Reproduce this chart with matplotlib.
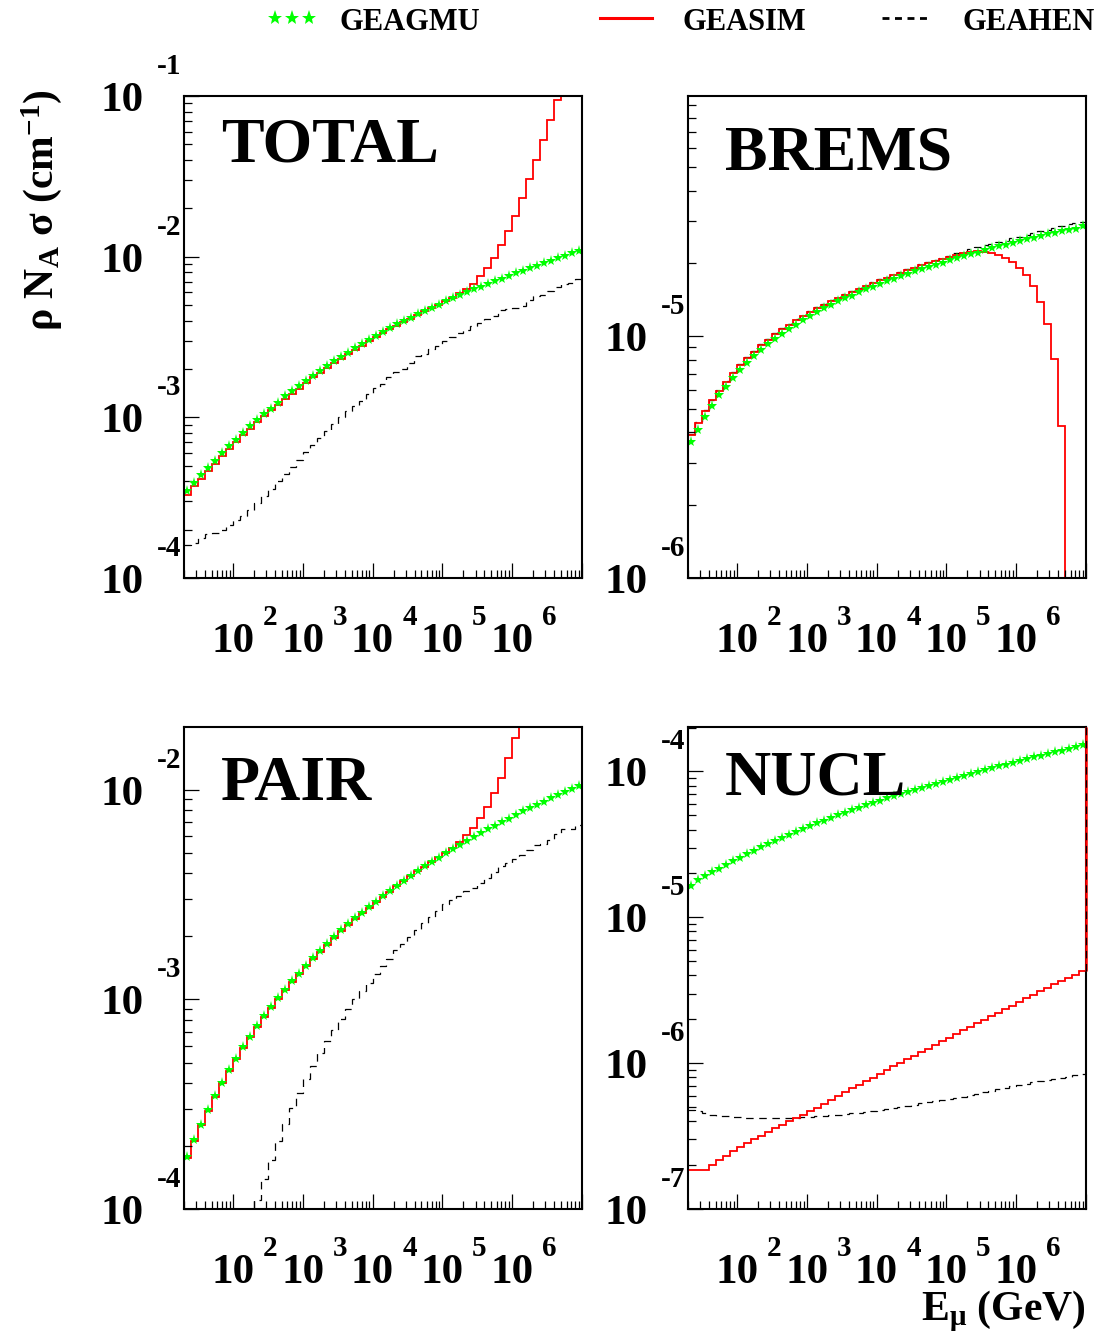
import numpy as np
import matplotlib
matplotlib.use("Agg")
import matplotlib.pyplot as plt
from matplotlib.ticker import LogLocator, NullFormatter
from matplotlib.transforms import offset_copy, blended_transform_factory
from matplotlib.lines import Line2D
import math

plt.rcParams['font.family'] = ['Liberation Serif', 'DejaVu Serif']
plt.rcParams['font.weight'] = 'bold'
plt.rcParams['mathtext.fontset'] = 'custom'
plt.rcParams['mathtext.rm'] = 'Liberation Serif:bold'
plt.rcParams['mathtext.it'] = 'Liberation Serif:bold'
plt.rcParams['mathtext.bf'] = 'Liberation Serif:bold'
plt.rcParams['mathtext.default'] = 'rm'

# ---- binning: log10(E/GeV) from 1.3 to 7.0 in 0.1 steps (57 bins)
log_e_edges = np.round(np.arange(1.3, 7.0001, 0.1), 2)

# ---- data (log10 of rho*N_A*sigma in cm^-1), one value per bin
total_geagmu = [-3.461, -3.409, -3.361, -3.315, -3.270, -3.222, -3.181, -3.139, -3.097, -3.056,
                -3.019, -2.980, -2.946, -2.908, -2.869, -2.835, -2.802, -2.771, -2.740, -2.709,
                -2.678, -2.651, -2.624, -2.597, -2.570, -2.543, -2.518, -2.493, -2.468, -2.445,
                -2.422, -2.399, -2.379, -2.358, -2.337, -2.317, -2.298, -2.277, -2.259, -2.240,
                -2.221, -2.202, -2.186, -2.169, -2.153, -2.136, -2.119, -2.103, -2.088, -2.072,
                -2.055, -2.038, -2.024, -2.009, -1.993, -1.980, -1.966]
total_geasim = [-3.482, -3.430, -3.384, -3.332, -3.288, -3.243, -3.195, -3.153, -3.110, -3.070,
                -3.031, -2.994, -2.956, -2.921, -2.886, -2.852, -2.821, -2.786, -2.752, -2.721,
                -2.690, -2.662, -2.634, -2.607, -2.580, -2.553, -2.527, -2.502, -2.476, -2.452,
                -2.429, -2.405, -2.385, -2.363, -2.341, -2.320, -2.300, -2.278, -2.255, -2.229,
                -2.200, -2.168, -2.123, -2.069, -2.007, -1.928, -1.843, -1.748, -1.637, -1.519,
                -1.399, -1.276, -1.150, -1.025, -0.900, -0.775, -0.650]
total_geahen = [-3.797, -3.783, -3.751, -3.725, -3.718, -3.700, -3.669, -3.637, -3.612, -3.575,
                -3.533, -3.490, -3.444, -3.399, -3.355, -3.309, -3.264, -3.218, -3.172, -3.128,
                -3.087, -3.041, -3.000, -2.963, -2.928, -2.898, -2.856, -2.818, -2.790, -2.751,
                -2.720, -2.699, -2.661, -2.620, -2.603, -2.574, -2.558, -2.527, -2.501, -2.478,
                -2.454, -2.433, -2.412, -2.387, -2.367, -2.335, -2.328, -2.318, -2.304, -2.271,
                -2.246, -2.236, -2.215, -2.190, -2.173, -2.163, -2.138]

brems_geagmu = [-5.439, -5.386, -5.335, -5.290, -5.245, -5.209, -5.172, -5.138, -5.110, -5.083,
                -5.058, -5.034, -5.011, -4.990, -4.969, -4.952, -4.935, -4.917, -4.901, -4.885,
                -4.870, -4.856, -4.844, -4.832, -4.819, -4.807, -4.796, -4.786, -4.774, -4.764,
                -4.753, -4.742, -4.732, -4.724, -4.714, -4.704, -4.696, -4.687, -4.677, -4.669,
                -4.662, -4.655, -4.645, -4.637, -4.629, -4.622, -4.613, -4.607, -4.600, -4.593,
                -4.586, -4.579, -4.572, -4.567, -4.561, -4.555, -4.546]
brems_geasim = [-5.407, -5.358, -5.310, -5.266, -5.228, -5.190, -5.153, -5.120, -5.092, -5.065,
                -5.038, -5.015, -4.992, -4.972, -4.952, -4.935, -4.917, -4.901, -4.884, -4.870,
                -4.855, -4.841, -4.829, -4.816, -4.804, -4.793, -4.781, -4.769, -4.760, -4.749,
                -4.738, -4.727, -4.717, -4.707, -4.699, -4.690, -4.680, -4.671, -4.665, -4.658,
                -4.652, -4.649, -4.652, -4.658, -4.666, -4.675, -4.692, -4.717, -4.749, -4.793,
                -4.858, -4.949, -5.094, -5.372, -np.inf, -np.inf, -np.inf]
brems_geahen = [-5.403, -5.354, -5.306, -5.262, -5.224, -5.186, -5.149, -5.116, -5.088, -5.061,
                -5.034, -5.011, -4.988, -4.968, -4.948, -4.931, -4.913, -4.897, -4.880, -4.866,
                -4.851, -4.837, -4.825, -4.812, -4.800, -4.789, -4.777, -4.765, -4.756, -4.745,
                -4.734, -4.723, -4.713, -4.703, -4.695, -4.686, -4.676, -4.667, -4.658, -4.650,
                -4.640, -4.631, -4.625, -4.617, -4.612, -4.607, -4.596, -4.589, -4.582, -4.572,
                -4.567, -4.561, -4.551, -4.545, -4.538, -4.531, -4.527]

pair_geagmu = [-3.753, -3.672, -3.597, -3.529, -3.462, -3.398, -3.339, -3.282, -3.229, -3.178,
               -3.127, -3.080, -3.037, -2.994, -2.954, -2.914, -2.877, -2.839, -2.804, -2.769,
               -2.736, -2.702, -2.670, -2.642, -2.613, -2.586, -2.559, -2.533, -2.508, -2.482,
               -2.457, -2.433, -2.411, -2.387, -2.365, -2.344, -2.323, -2.302, -2.283, -2.264,
               -2.245, -2.226, -2.207, -2.189, -2.172, -2.154, -2.137, -2.121, -2.103, -2.087,
               -2.072, -2.056, -2.041, -2.025, -2.011, -1.997, -1.982]
pair_geasim = [-3.756, -3.675, -3.600, -3.532, -3.465, -3.401, -3.342, -3.285, -3.232, -3.181,
               -3.130, -3.083, -3.040, -2.997, -2.957, -2.917, -2.880, -2.842, -2.807, -2.772,
               -2.739, -2.705, -2.673, -2.645, -2.616, -2.589, -2.562, -2.536, -2.511, -2.485,
               -2.460, -2.436, -2.413, -2.389, -2.366, -2.344, -2.322, -2.299, -2.277, -2.248,
               -2.216, -2.180, -2.135, -2.081, -2.016, -1.941, -1.850, -1.753, -1.640, -1.530,
               -1.420, -1.310, -1.200, -1.090, -0.980, -0.870, -0.760]
pair_geahen = [-4.60, -4.52, -4.45, -4.38, -4.31, -4.25, -4.19, -4.13, -4.08, -4.03,
               -3.956, -3.857, -3.764, -3.677, -3.594, -3.518, -3.446, -3.382, -3.319, -3.255,
               -3.199, -3.148, -3.092, -3.045, -3.000, -2.960, -2.920, -2.881, -2.841, -2.806,
               -2.766, -2.734, -2.702, -2.670, -2.637, -2.605, -2.578, -2.546, -2.527, -2.506,
               -2.482, -2.466, -2.443, -2.419, -2.392, -2.365, -2.347, -2.331, -2.310, -2.287,
               -2.264, -2.259, -2.239, -2.212, -2.188, -2.185, -2.169]

nucl_geagmu = [-4.787, -4.746, -4.719, -4.691, -4.666, -4.641, -4.616, -4.593, -4.568, -4.545,
               -4.520, -4.497, -4.476, -4.453, -4.433, -4.412, -4.394, -4.373, -4.355, -4.337,
               -4.318, -4.300, -4.282, -4.266, -4.248, -4.232, -4.216, -4.200, -4.184, -4.170,
               -4.156, -4.140, -4.126, -4.113, -4.097, -4.083, -4.069, -4.056, -4.042, -4.028,
               -4.014, -4.003, -3.989, -3.978, -3.964, -3.953, -3.939, -3.928, -3.914, -3.902,
               -3.891, -3.880, -3.868, -3.857, -3.845, -3.834, -3.815]
nucl_geasim = [-6.730, -6.730, -6.730, -6.696, -6.666, -6.634, -6.605, -6.575, -6.548, -6.520,
               -6.497, -6.472, -6.447, -6.422, -6.399, -6.376, -6.353, -6.330, -6.307, -6.280,
               -6.250, -6.223, -6.198, -6.170, -6.147, -6.125, -6.099, -6.074, -6.049, -6.022,
               -5.999, -5.974, -5.949, -5.923, -5.901, -5.875, -5.850, -5.825, -5.800, -5.775,
               -5.752, -5.727, -5.702, -5.679, -5.654, -5.628, -5.606, -5.580, -5.555, -5.532,
               -5.507, -5.484, -5.459, -5.439, -5.416, -5.393, -5.370]
nucl_geahen = [-6.319, -6.326, -6.342, -6.353, -6.360, -6.365, -6.369, -6.372, -6.374, -6.376,
               -6.376, -6.376, -6.376, -6.376, -6.376, -6.374, -6.372, -6.369, -6.365, -6.362,
               -6.358, -6.353, -6.349, -6.344, -6.340, -6.335, -6.328, -6.319, -6.312, -6.305,
               -6.298, -6.292, -6.285, -6.276, -6.266, -6.259, -6.253, -6.246, -6.239, -6.230,
               -6.221, -6.211, -6.200, -6.189, -6.177, -6.168, -6.159, -6.150, -6.141, -6.131,
               -6.125, -6.118, -6.109, -6.102, -6.093, -6.083, -6.074]

panel_titles = ["TOTAL", "BREMS", "PAIR", "NUCL"]
legend_labels = ["GEAGMU", "GEASIM", "GEAHEN"]
x_label_decades = [2, 3, 4, 5, 6]

# ---- figure
W, H = 1098, 1337
fig = plt.figure(figsize=(W / 100, H / 100), dpi=100)
fig.patch.set_facecolor('white')

GREEN = '#00ff00'
RED = '#ff0000'
DASH = (0, (6, 4.5))

panels = [
    dict(title=panel_titles[0], gmu=total_geagmu, sim=total_geasim, hen=total_geahen,
         ylim=(1e-4, 1e-1), rect=[184, 96, 582, 578], tbase=65, edge_up=False),
    dict(title=panel_titles[1], gmu=brems_geagmu, sim=brems_geasim, hen=brems_geahen,
         ylim=(1e-6, 10 ** -4.007), rect=[688, 96, 1086, 578], tbase=73, edge_up=False),
    dict(title=panel_titles[2], gmu=pair_geagmu, sim=pair_geasim, hen=pair_geahen,
         ylim=(1e-4, 10 ** -1.70), rect=[184, 727, 582, 1209], tbase=73, edge_up=False),
    dict(title=panel_titles[3], gmu=nucl_geagmu, sim=nucl_geasim, hen=nucl_geahen,
         ylim=(1e-7, 10 ** -3.695), rect=[688, 727, 1086, 1209], tbase=68, edge_up=True),
]

edges = 10 ** log_e_edges
centers = 10 ** (0.5 * (log_e_edges[:-1] + log_e_edges[1:]))

for p in panels:
    l, t, r, b = p['rect']
    ax = fig.add_axes([l / W, 1 - b / H, (r - l) / W, (b - t) / H])
    ax.set_xscale('log')
    ax.set_yscale('log', nonpositive='clip')
    ax.set_xlim(edges[0], edges[-1])
    ax.set_ylim(*p['ylim'])

    hen = 10 ** np.array(p['hen'], dtype=float)
    sim = 10 ** np.array(p['sim'], dtype=float)
    gmu = 10 ** np.array(p['gmu'], dtype=float)

    ax.stairs(hen, edges, baseline=None, color='black', lw=0.9, linestyle=DASH)
    ax.stairs(sim, edges, baseline=None, color=RED, lw=1.3)
    if p['edge_up']:
        top = ax.get_ylim()[1]
        ax.vlines(edges[-1], sim[-1], top, color=RED, lw=1.8, zorder=3, clip_on=False)
        ax.vlines(edges[-1], sim[-1], top, color='black', lw=0.9, linestyles=[DASH],
                  zorder=3.1, clip_on=False)
    ax.plot(centers, gmu, ls='none', marker='*', ms=8, color=GREEN, mew=0)

    for axis in (ax.xaxis, ax.yaxis):
        axis.set_major_locator(LogLocator(base=10, numticks=50))
        axis.set_minor_locator(LogLocator(base=10, subs=np.arange(2, 10), numticks=50))
        axis.set_minor_formatter(NullFormatter())
    ax.tick_params(which='both', direction='in', top=False, right=False,
                   labelbottom=False, labelleft=False, width=0.9, color='black')
    ax.tick_params(which='major', length=10.5)
    ax.tick_params(which='minor', length=5.5)
    for s in ax.spines.values():
        s.set_linewidth(1.5)

    # x tick labels (ROOT style: "10" with exponent to the right)
    bx = blended_transform_factory(ax.transData, ax.transAxes)
    for k in x_label_decades:
        ax.text(10 ** k, 0, "10", transform=offset_copy(bx, fig=fig, x=0, y=-74, units='dots'),
                ha='center', va='baseline', fontsize=31, fontweight='bold')
        ax.text(10 ** k, 0, str(k), transform=offset_copy(bx, fig=fig, x=37, y=-47, units='dots'),
                ha='center', va='baseline', fontsize=21, fontweight='bold')

    # y tick labels
    by = blended_transform_factory(ax.transAxes, ax.transData)
    kmin = math.ceil(math.log10(p['ylim'][0]) - 1e-9)
    kmax = math.floor(math.log10(p['ylim'][1]) + 1e-9)
    for k in range(kmin, kmax + 1):
        ax.text(0, 10.0 ** k, "10", transform=offset_copy(by, fig=fig, x=-40, y=-15, units='dots'),
                ha='right', va='baseline', fontsize=31, fontweight='bold')
        ax.text(0, 10.0 ** k, "-%d" % (-k), transform=offset_copy(by, fig=fig, x=-27, y=22, units='dots'),
                ha='left', va='baseline', fontsize=21, fontweight='bold')

    ax.text(0, 1, p['title'], transform=offset_copy(ax.transAxes, fig=fig, x=37, y=-p['tbase'], units='dots'),
            ha='left', va='baseline', fontsize=46, fontweight='bold')

# ---- legend at top
fig.add_artist(Line2D([275 / W, 292 / W, 309 / W], [1 - 18 / H] * 3, transform=fig.transFigure,
                      ls='none', marker='*', ms=11, color=GREEN, mew=0))
fig.text(340 / W, 1 - 30 / H, legend_labels[0], fontsize=22, fontweight='bold', va='baseline', ha='left')
fig.add_artist(Line2D([600 / W, 652 / W], [1 - 18 / H] * 2, transform=fig.transFigure,
                      color=RED, lw=2.2))
fig.text(682 / W, 1 - 30 / H, legend_labels[1], fontsize=22, fontweight='bold', va='baseline', ha='left')
fig.add_artist(Line2D([882 / W, 932 / W], [1 - 18 / H] * 2, transform=fig.transFigure,
                      color='black', lw=2.0, dashes=(2.5, 2.0)))
fig.text(962 / W, 1 - 30 / H, legend_labels[2], fontsize=22, fontweight='bold', va='baseline', ha='left')

# ---- axis titles
fig.text(42 / W, 1 - 210 / H, r"$\rho$ N$_{\mathrm{A}}$ $\sigma$ (cm$^{-1}$)", rotation=90,
         ha='center', va='center', fontsize=30, fontweight='bold')
fig.text(1086 / W, 1 - 1320 / H, r"E$_{\mu}$ (GeV)", ha='right', va='baseline',
         fontsize=30, fontweight='bold')

fig.savefig('out.png', dpi=100, facecolor='white')
